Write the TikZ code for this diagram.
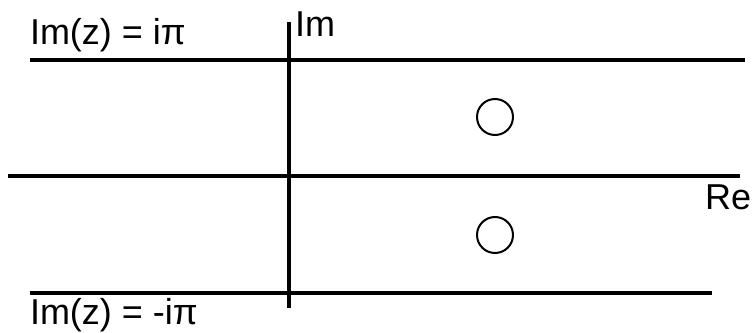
\documentclass[tikz,border=0pt]{standalone}
\usepackage{fontspec}
\setmainfont{Liberation Sans}
\tikzset{lbl/.style={inner sep=0pt, outer sep=0pt, anchor=base west, font=\fontsize{36}{40}\selectfont}}
\tikzset{pole/.style={inner sep=0pt, outer sep=0pt, circle, draw, line width=2pt, minimum size=36pt}}
\tikzset{ln/.style={line width=3.2pt}}

\begin{document}
\begin{tikzpicture}[x=1pt,y=1pt]
\useasboundingbox (0,0) rectangle (755,332);
\coordinate (topL) at (30,272);
\coordinate (topR) at (745,272);
\coordinate (reL) at (8,156);
\coordinate (reR) at (740,156);
\coordinate (botL) at (30,39);
\coordinate (botR) at (712,39);
\coordinate (imT) at (289,310);
\coordinate (imB) at (289,24);
\node[pole] (p1) at (495,215) {};
\node[pole] (p2) at (495,97) {};
\node[lbl] (upper) at (30,287) {Im(z) = iπ};
\node[lbl] (lower) at (30,8) {Im(z) = -iπ};
\node[lbl] (im) at (295,295) {Im};
\node[lbl] (re) at (705,122) {Re};
\draw[ln]
\foreach \a/\b in {topL/topR,reL/reR,botL/botR,imT/imB}{
(\a)--(\b)
}
;
\end{tikzpicture}
\end{document}
